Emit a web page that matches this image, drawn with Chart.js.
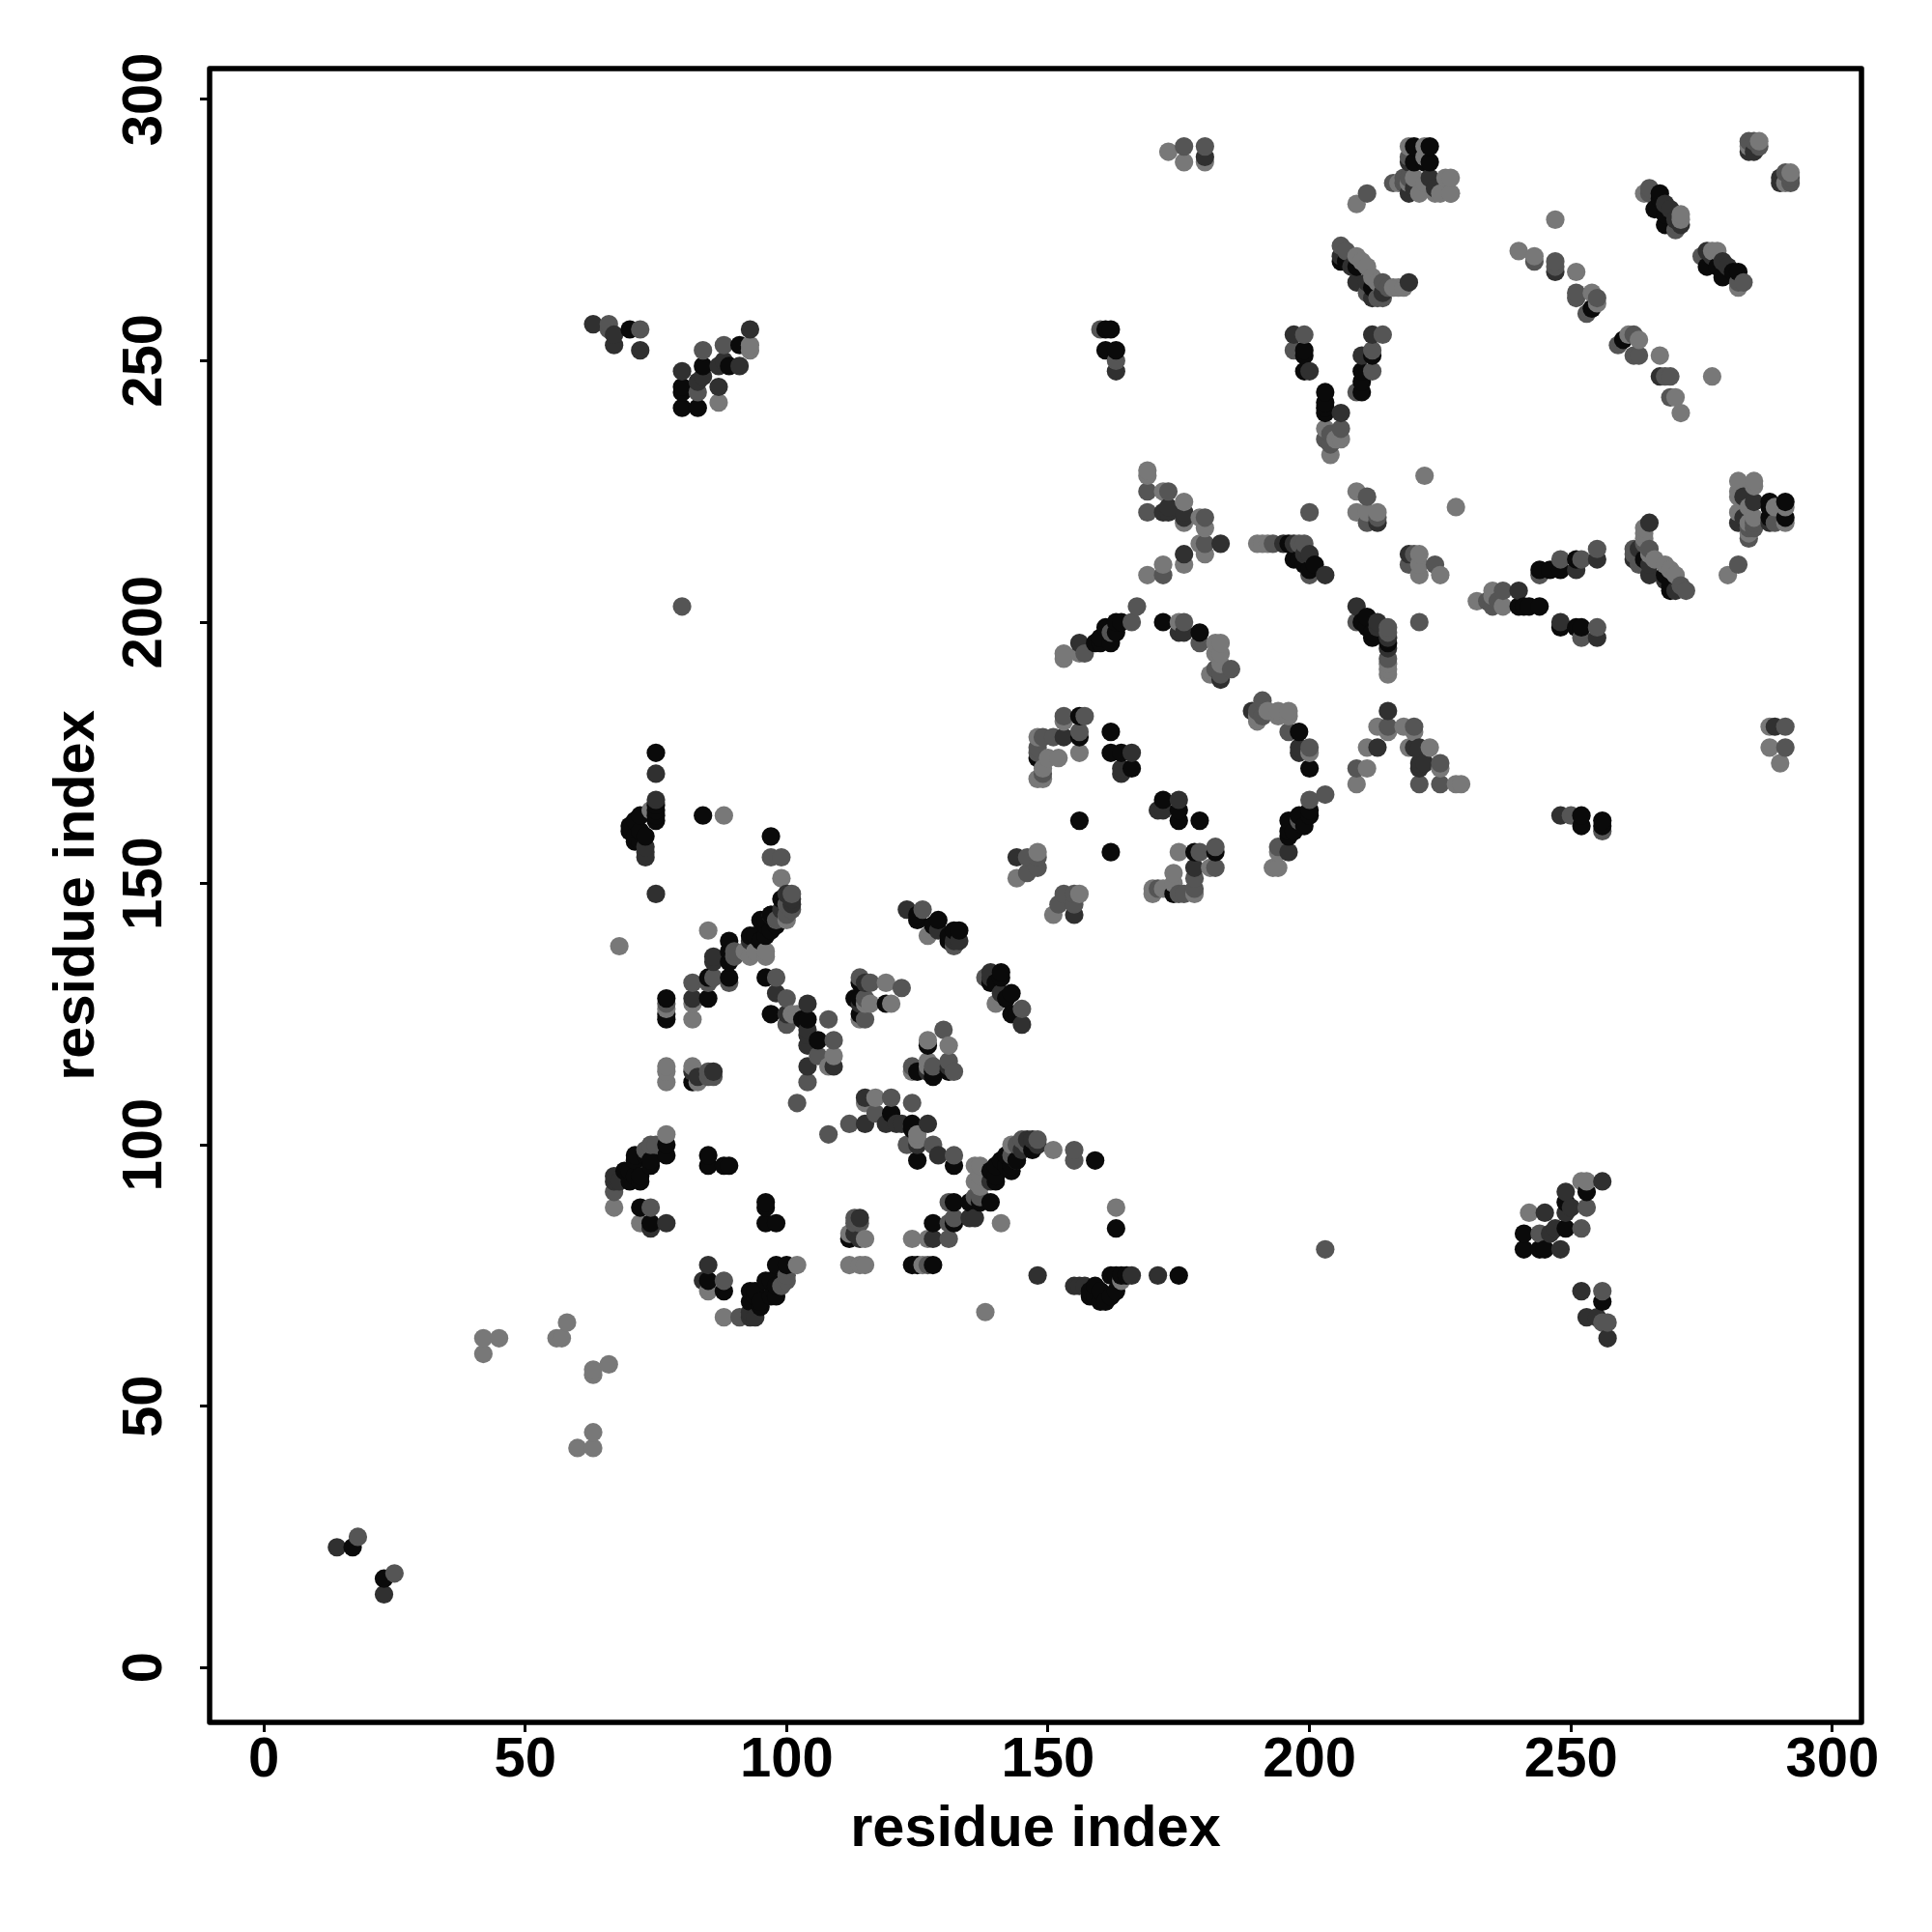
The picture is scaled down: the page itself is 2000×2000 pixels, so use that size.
<!DOCTYPE html>
<html>
<head>
<meta charset="utf-8">
<title>residue contact map</title>
<script src="https://cdn.jsdelivr.net/npm/chart.js@4/dist/chart.umd.min.js"></script>
<style>
  html, body { margin: 0; padding: 0; background: #fff; }
  canvas { display: block; }
</style>
</head>
<body>
<canvas id="contactMap" width="2000" height="2000"></canvas>
<script>
// Contacts, [x, y], grouped by grey level
const blackPoints = [
  [17,23],[70,256],[80,245],[80,244],[80,241],[83,241],[84,249],[89,249],[91,253],
  [75,175],[75,164],[75,163],[75,162],[75,165],[72,163],[72,160],[71,162],[70,161],[70,160],[71,158],[71,159],[73,159],[72,158],
  [84,163],[97,159],[99,147],[97,144],[95,143],[96,142],[98,142],[96,140],[93,140],[94,140],[89,139],[89,137],[85,132],[89,132],[85,128],[77,128],[77,125],[77,124],[82,112],
  [96,132],[97,125],[104,124],[103,124],[106,120],[114,128],[114,125],[119,127],[113,128],[114,131],
  [125,144],[129,143],[133,141],[131,140],[132,141],[131,139],[125,143],[128,142],
  [156,178],[156,182],[162,179],[162,175],[164,175],[166,172],[148,174],[156,162],
  [163,200],[163,198],[161,199],[160,196],[162,196],[159,196],[160,197],[172,200],[179,198],[164,200],
  [200,210],[197,212],[198,212],[199,211],[201,211],[196,215],
  [199,252],[199,251],[199,248],[203,244],[203,241],[203,240],[212,251],[210,248],[210,244],[203,242],[210,246],
  [206,269],[207,269],[209,268],[212,264],[220,291],[223,291],[220,288],[223,288],[222,288],
  [254,260],[267,282],[267,281],[266,279],[268,278],[268,276],
  [163,252],[161,252],[161,256],[162,256],
  [70,93],[71,94],[72,93],[70,95],[69,95],[72,94],[71,97],[71,98],[74,96],[74,97],[73,98],[77,100],[77,98],
  [72,88],[74,85],[85,98],[85,96],[88,96],[89,96],[89,135],[95,139],[97,141],[96,143],
  // lower right half
  [23,17],[256,70],[245,80],[244,80],[241,80],[241,83],[249,84],[249,89],[253,91],
  [175,75],[164,75],[163,75],[162,75],[165,75],[163,72],[160,72],[162,71],[161,70],[160,70],[158,71],[159,71],[159,73],[158,72],
  [163,84],[159,97],[147,99],[144,97],[143,95],[142,96],[142,98],[140,96],[140,93],[140,94],[139,89],[137,89],[132,85],[132,89],[128,85],[128,77],[125,77],[124,77],[112,82],
  [132,96],[125,97],[124,104],[124,103],[120,106],[128,114],[125,114],[127,119],[128,113],[131,114],
  [144,125],[143,129],[141,133],[140,131],[141,132],[139,131],[143,125],[142,128],
  [178,156],[182,156],[179,162],[175,162],[175,164],[172,166],[174,148],[162,156],
  [200,163],[198,163],[199,161],[196,160],[196,162],[196,159],[197,160],[200,172],[198,179],[200,164],
  [210,200],[212,197],[212,198],[211,199],[211,201],[215,196],
  [252,199],[251,199],[248,199],[244,203],[241,203],[240,203],[251,212],[248,210],[244,210],[242,203],[246,210],
  [269,206],[269,207],[268,209],[264,212],[291,220],[291,223],[288,220],[288,223],[288,222],
  [260,254],[282,267],[281,267],[279,266],[278,268],[276,268],
  [252,163],[252,161],[256,161],[256,162],
  [93,70],[94,71],[93,72],[95,70],[95,69],[94,72],[97,71],[98,71],[96,74],[97,74],[98,73],[100,77],[98,77],
  [88,72],[85,74],[98,85],[96,85],[96,88],[96,89],[135,89],[139,95],[141,97],[143,96]
];
const darkPoints = [
  [14,23],[63,257],[67,255],[67,253],[72,252],[80,248],[83,246],[84,247],[87,249],[87,245],[88,250],[91,249],[93,256],
  [75,148],[75,171],[75,166],[73,156],[73,155],[73,157],[100,148],[101,147],[101,146],[99,145],[86,136],[82,128],[82,114],[83,113],
  [98,129],[104,127],[100,125],[104,121],[104,119],[109,115],[104,115],[104,122],[115,131],[114,127],
  [123,145],[129,141],[133,139],[132,139],[144,155],[153,178],[166,175],[164,171],[164,172],
  [172,221],[173,222],[173,221],[176,221],[176,220],[183,215],[176,213],
  [156,196],[175,198],[176,198],[183,189],[195,215],[200,213],[203,209],[199,213],[197,215],
  [213,219],[197,255],[200,248],[206,240],[212,255],[210,251],
  [206,270],[208,268],[209,265],[211,265],[212,262],[214,263],[219,265],[220,283],[224,283],[223,285],[219,288],
  [180,289],[247,267],[269,279],[268,280],[270,277],[271,276],[284,290],[285,290],
  [163,248],[67,93],[67,94],[68,93],[74,84],[77,85],[86,135],[93,139],[97,144],[86,114],[219,282],
  // lower right half
  [23,14],[257,63],[255,67],[253,67],[252,72],[248,80],[246,83],[247,84],[249,87],[245,87],[250,88],[249,91],[256,93],
  [148,75],[171,75],[166,75],[156,73],[155,73],[157,73],[148,100],[147,101],[146,101],[145,99],[136,86],[128,82],[114,82],[113,83],
  [129,98],[127,104],[125,100],[121,104],[119,104],[115,109],[115,104],[122,104],[131,115],[127,114],
  [145,123],[141,129],[139,133],[139,132],[155,144],[178,153],[175,166],[171,164],[172,164],
  [221,172],[222,173],[221,173],[221,176],[220,176],[215,183],[213,176],
  [196,156],[198,175],[198,176],[189,183],[215,195],[213,200],[209,203],[213,199],[215,197],
  [219,213],[255,197],[248,200],[240,206],[255,212],[251,210],
  [270,206],[268,208],[265,209],[265,211],[262,212],[263,214],[265,219],[283,220],[283,224],[285,223],[288,219],
  [289,180],[267,247],[279,269],[280,268],[277,270],[276,271],[290,284],[290,285],
  [248,163],[93,67],[94,67],[93,68],[84,74],[85,77],[135,86],[139,93],[144,97],[114,86],[282,219]
];
const midPoints = [
  [18,25],[66,256],[66,257],[72,256],[83,244],[84,252],[88,253],[97,155],[99,155],[101,148],[101,145],[100,144],[90,137],[86,132],[89,131],[82,131],[77,127],[85,113],[86,113],
  [98,132],[100,128],[100,123],[108,124],[109,120],[106,117],[104,112],[102,108],[114,132],[116,131],[122,130],[115,124],[115,128],
  [126,145],[132,138],[146,155],[146,152],[148,153],[148,155],[149,178],[153,182],[157,182],[148,176],[149,171],[156,179],[151,178],[148,175],
  [169,225],[173,225],[169,221],[180,220],[180,215],[172,209],
  [167,203],[166,200],[157,194],[176,200],[179,196],[185,191],[183,190],[182,191],[162,198],
  [198,215],[200,209],[199,215],[193,215],[200,221],[211,224],[211,219],[213,220],
  [199,255],[197,252],[206,237],[204,236],[214,255],[212,252],[212,248],[209,244],[204,234],[203,235],
  [206,272],[207,271],[214,265],[214,262],[211,263],[213,262],[215,264],[211,282],[216,284],[218,285],[176,291],[180,291],
  [243,269],[247,269],[247,268],[251,263],[251,262],[255,262],[253,259],[265,282],[270,275],[265,283],[285,292],[284,292],[286,291],
  [160,256],[163,250],[67,91],[73,99],[75,100],[74,100],[74,88],[85,114],[85,131],[90,136],[98,143],[100,146],[219,289],[218,284],[219,285],[80,203],
  // lower right half
  [25,18],[256,66],[257,66],[256,72],[244,83],[252,84],[253,88],[155,97],[155,99],[148,101],[145,101],[144,100],[137,90],[132,86],[131,89],[131,82],[127,77],[113,85],[113,86],
  [132,98],[128,100],[123,100],[124,108],[120,109],[117,106],[112,104],[108,102],[132,114],[131,116],[130,122],[124,115],[128,115],
  [145,126],[138,132],[155,146],[152,146],[153,148],[155,148],[178,149],[182,153],[182,157],[176,148],[171,149],[179,156],[178,151],[175,148],
  [225,169],[225,173],[221,169],[220,180],[215,180],[209,172],
  [203,167],[200,166],[194,157],[200,176],[196,179],[191,185],[190,183],[191,182],[198,162],
  [215,198],[209,200],[215,199],[215,193],[221,200],[224,211],[219,211],[220,213],
  [255,199],[252,197],[237,206],[236,204],[255,214],[252,212],[248,212],[244,209],[234,204],[235,203],
  [272,206],[271,207],[265,214],[262,214],[263,211],[262,213],[264,215],[282,211],[284,216],[285,218],[291,176],[291,180],
  [269,243],[269,247],[268,247],[263,251],[262,251],[262,255],[259,253],[282,265],[275,270],[283,265],[292,285],[292,284],[291,286],
  [256,160],[250,163],[91,67],[99,73],[100,75],[100,74],[88,74],[114,85],[131,85],[136,90],[143,98],[146,100],[289,219],[284,218],[285,219],[203,80]
];
const lightPoints = [
  [42,60],[42,63],[45,63],[56,63],[57,63],[58,66],[93,253],[93,252],[87,242],[68,138],[74,164],[88,163],[99,151],[100,143],[92,137],[94,137],[96,137],[85,141],[82,127],[82,124],[77,115],[77,114],[77,112],[82,115],[83,112],
  [102,125],[101,125],[109,117],[108,115],[119,131],[116,127],[120,127],[114,124],[115,127],[128,141],[127,140],[148,156],[144,151],[148,178],[153,181],[156,175],[150,174],[152,174],[149,170],[148,170],[149,172],
  [169,229],[169,228],[172,225],[176,223],[176,219],[179,220],[180,218],[179,215],[180,213],[176,211],[172,211],[169,209],[222,228],
  [156,194],[153,194],[153,193],[175,200],[183,196],[182,196],[183,194],[182,194],[181,190],[183,192],[182,190],
  [190,215],[192,215],[191,215],[209,225],[209,221],[213,221],[211,221],[203,237],[206,235],[204,232],[205,235],
  [209,270],[211,268],[210,269],[212,266],[213,265],[218,264],[217,264],[216,264],[209,280],[219,291],[222,291],[220,285],[226,285],[221,282],[225,282],[227,282],[219,284],[222,284],[173,290],[176,288],[180,288],
  [240,271],[243,270],[251,267],[247,277],[254,263],[255,261],[264,282],[271,278],[271,277],[286,292],[284,291],
  [227,285],[224,282],[217,284],[222,289],[227,282],[67,88],[72,85],[77,102],[77,126],[96,136],[93,136],
  // lower right half
  [60,42],[63,42],[63,45],[63,56],[63,57],[66,58],[253,93],[252,93],[242,87],[138,68],[164,74],[163,88],[151,99],[143,100],[137,92],[137,94],[137,96],[141,85],[127,82],[124,82],[115,77],[114,77],[112,77],[115,82],[112,83],
  [125,102],[125,101],[117,109],[115,108],[131,119],[127,116],[127,120],[124,114],[127,115],[141,128],[140,127],[156,148],[151,144],[178,148],[181,153],[175,156],[174,150],[174,152],[170,149],[170,148],[172,149],
  [229,169],[228,169],[225,172],[223,176],[219,176],[220,179],[218,180],[215,179],[213,180],[211,176],[211,172],[209,169],[228,222],
  [194,156],[194,153],[193,153],[200,175],[196,183],[196,182],[194,183],[194,182],[190,181],[192,183],[190,182],
  [215,190],[215,192],[215,191],[225,209],[221,209],[221,213],[221,211],[237,203],[235,206],[232,204],[235,205],
  [270,209],[268,211],[269,210],[266,212],[265,213],[264,218],[264,217],[264,216],[280,209],[291,219],[291,222],[285,220],[285,226],[282,221],[282,225],[282,227],[284,219],[284,222],[290,173],[288,176],[288,180],
  [271,240],[270,243],[267,251],[277,247],[263,254],[261,255],[282,264],[278,271],[277,271],[292,286],[291,284],
  [285,227],[282,224],[284,217],[289,222],[88,67],[85,72],[102,77],[126,77],[136,96],[136,93]
];

const tickValues = [0, 50, 100, 150, 200, 250, 300];
const axisTitle = "residue index";
const BLACK = "#0a0a0a", DARK = "#303030", MID = "#555555", LIGHT = "#787878";

// later residues sit on top of earlier ones in the reference, so draw left to right, low to high
const contacts = [];
function addContacts(points, colour) {
    points.forEach(p => contacts.push({ x: p[0], y: p[1], colour: colour }));
}
addContacts(lightPoints, LIGHT);
addContacts(midPoints, MID);
addContacts(darkPoints, DARK);
addContacts(blackPoints, BLACK);
contacts.sort((a, b) => a.x - b.x || a.y - b.y);

// R style box round the plot
const plotBox = {
    id: "plotBox",
    afterDraw(chart) {
        const a = chart.chartArea;
        const ctx = chart.ctx;
        ctx.save();
        ctx.strokeStyle = "#000";
        ctx.lineWidth = 5.5;
        ctx.lineJoin = "round";
        ctx.strokeRect(a.left, a.top, a.right - a.left, a.bottom - a.top);
        ctx.restore();
    }
};

function axisOptions(min, max, extra) {
    return Object.assign({
        type: "linear",
        min: min,
        max: max,
        afterBuildTicks: scale => { scale.ticks = tickValues.map(v => ({ value: v })); },
        grid: { drawOnChartArea: false, drawTicks: true, tickLength: 10, tickWidth: 3, tickColor: "#000" },
        border: { display: false }
    }, extra);
}

const fontFamily = "'Liberation Sans', Arial, sans-serif";

new Chart(document.getElementById("contactMap").getContext("2d"), {
    type: "scatter",
    data: {
        datasets: [{
            data: contacts,
            backgroundColor: contacts.map(c => c.colour),
            borderWidth: 0,
            pointRadius: 9.6,
            pointHoverRadius: 9.6
        }]
    },
    options: {
        responsive: false,
        animation: false,
        layout: { padding: { top: 71, right: 73, left: 0, bottom: 0 } },
        plugins: { legend: { display: false }, tooltip: { enabled: false } },
        scales: {
            x: axisOptions(-10.35, 305.56, {
                afterFit: scale => { scale.height = 217; },
                ticks: { color: "#000", padding: -5, maxRotation: 0, minRotation: 0, font: { family: fontFamily, size: 58, weight: "bold" } },
                title: { display: true, text: axisTitle, color: "#000", padding: { top: 0, bottom: 70 }, font: { family: fontFamily, size: 59.5, weight: "bold" } }
            }),
            y: axisOptions(-10.5, 305.9, {
                afterFit: scale => { scale.width = 217; },
                ticks: { color: "#000", padding: 8, crossAlign: "center", minRotation: 90, maxRotation: 90, font: { family: fontFamily, size: 58, weight: "bold" } },
                title: { display: true, text: axisTitle, color: "#000", padding: { top: 45, bottom: 0 }, font: { family: fontFamily, size: 59.5, weight: "bold" } }
            })
        }
    },
    plugins: [plotBox]
});
</script>
</body>
</html>
